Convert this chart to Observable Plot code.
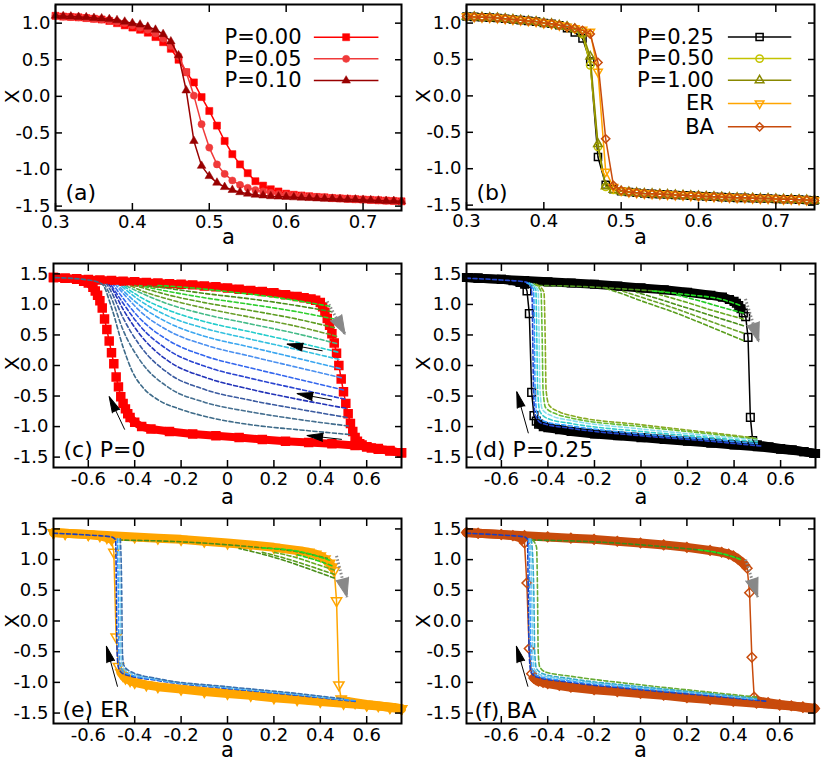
<!DOCTYPE html>
<html><head><meta charset="utf-8">
<script src="https://cdn.jsdelivr.net/npm/d3@7"></script>
<script src="https://cdn.jsdelivr.net/npm/@observablehq/plot@0.6"></script>
<style>
body{margin:0;background:#fff;}
#wrap{position:relative;width:822px;height:762px;overflow:hidden;background:#fff;}
</style></head><body><div id="wrap"></div>
<script>
// ---------------- DATA ----------------
// Panel (a)/(b): control parameter grid
const aGrid = [0.30,0.31,0.32,0.33,0.34,0.35,0.36,0.37,0.38,0.39,0.40,0.41,0.42,0.43,0.44,0.45,0.46,0.47,0.48,0.49,0.50,0.51,0.52,0.53,0.54,0.55,0.56,0.57,0.58,0.59,0.60,0.61,0.62,0.63,0.64,0.65,0.66,0.67,0.68,0.69,0.70,0.71,0.72,0.73,0.74,0.75];
const seriesA = ["P=0.00","P=0.05","P=0.10"];
const xP000 = [1.10,1.09,1.085,1.08,1.07,1.06,1.05,1.03,1.00,0.97, 0.94,0.91,0.87,0.81,0.74,0.65,0.50,0.33,0.19,-0.01, -0.20,-0.40,-0.61,-0.79,-0.93,-1.05,-1.16,-1.22,-1.27,-1.30, -1.33,-1.345,-1.355,-1.365,-1.375,-1.38,-1.39,-1.395,-1.40,-1.405, -1.41,-1.415,-1.42,-1.425,-1.43,-1.435];
const xP005 = [1.10,1.09,1.085,1.08,1.07,1.06,1.05,1.04,1.02,1.00, 0.97,0.94,0.91,0.86,0.79,0.69,0.55,0.33,0.01,-0.38, -0.70,-0.93,-1.06,-1.15,-1.21,-1.25,-1.28,-1.30,-1.32,-1.335, -1.345,-1.355,-1.36,-1.37,-1.375,-1.38,-1.39,-1.395,-1.40,-1.405, -1.41,-1.415,-1.42,-1.425,-1.43,-1.435];
const xP010 = [1.10,1.095,1.09,1.085,1.08,1.07,1.065,1.055,1.04,1.02, 1.00,0.98,0.95,0.91,0.85,0.75,0.56,0.08,-0.61,-0.95, -1.09,-1.18,-1.24,-1.28,-1.31,-1.33,-1.345,-1.355,-1.365,-1.37, -1.375,-1.38,-1.385,-1.39,-1.395,-1.40,-1.40,-1.405,-1.41,-1.41, -1.415,-1.42,-1.425,-1.43,-1.43,-1.435];

const seriesB = ["P=0.25","P=0.50","P=1.00","ER","BA"];
const bUpper = [1.09,1.085,1.08,1.075,1.07,1.06,1.05,1.04,1.03,1.02,1.00,0.99,0.97];           // a = 0.30..0.42
const bMid = [                                                                                   // a = 0.43..0.50
  [0.93,0.87,0.79,0.47,-0.84,-1.22,-1.28,-1.31],
  [0.95,0.92,0.85,0.42,-0.70,-1.25,-1.29,-1.31],
  [0.95,0.92,0.86,0.54,-0.66,-1.24,-1.29,-1.31],
  [0.95,0.93,0.91,0.88,0.33,-1.04,-1.25,-1.30],
  [0.95,0.93,0.90,0.85,0.46,-0.59,-1.23,-1.30]
];
const bLower = [-1.32,-1.33,-1.34,-1.345,-1.35,-1.355,-1.36,-1.365,-1.37,-1.375,-1.38,-1.385,-1.39,-1.395,-1.40,-1.40,-1.405,-1.41,-1.41,-1.415,-1.42,-1.42,-1.425,-1.43,-1.435]; // a = 0.51..0.75

// Panel (c) P=0 main loop
const cUpA = [-0.75,-0.70,-0.65,-0.60,-0.55,-0.50,-0.45,-0.40,-0.35,-0.30,-0.25,-0.20,-0.15,-0.10,-0.05,0,0.05,0.10,0.15,0.20,0.25,0.30,0.33,0.36,0.38,0.40,0.41,0.42,0.43,0.44,0.45,0.46,0.47,0.48,0.49,0.50,0.51,0.52,0.53,0.54,0.55,0.56,0.57,0.58,0.60,0.62,0.65,0.70,0.75];
const cUpX = [1.44,1.43,1.42,1.41,1.40,1.39,1.38,1.37,1.36,1.35,1.34,1.33,1.32,1.30,1.29,1.27,1.25,1.23,1.21,1.19,1.16,1.13,1.11,1.09,1.07,1.03,0.96,0.87,0.77,0.66,0.52,0.37,0.20,0.00,-0.22,-0.43,-0.62,-0.79,-0.95,-1.08,-1.18,-1.24,-1.28,-1.30,-1.33,-1.35,-1.37,-1.40,-1.43];
const cLoA = [-0.75,-0.70,-0.65,-0.62,-0.60,-0.58,-0.57,-0.56,-0.55,-0.54,-0.53,-0.52,-0.51,-0.50,-0.49,-0.48,-0.47,-0.46,-0.45,-0.44,-0.43,-0.42,-0.40,-0.37,-0.33,-0.25,-0.15,-0.05,0.05,0.15,0.25,0.35,0.45,0.55,0.60,0.65,0.70,0.75];
const cLoX = [1.44,1.43,1.41,1.38,1.35,1.28,1.22,1.15,1.06,0.94,0.76,0.59,0.40,0.21,0.03,-0.19,-0.35,-0.51,-0.62,-0.71,-0.79,-0.85,-0.93,-1.00,-1.04,-1.08,-1.12,-1.15,-1.18,-1.21,-1.24,-1.26,-1.28,-1.31,-1.33,-1.36,-1.39,-1.43];
const cDash = [
  [[0.44,0.97],[0.35,1.03],[0.2,1.12],[0.0,1.21],[-0.15,1.27],[-0.3,1.31]],
  [[0.45,0.88],[0.3,0.98],[0.1,1.09],[-0.1,1.18],[-0.25,1.26],[-0.35,1.31]],
  [[0.46,0.76],[0.3,0.88],[0.1,1.0],[-0.1,1.11],[-0.25,1.21],[-0.38,1.31]],
  [[0.46,0.62],[0.3,0.76],[0.1,0.9],[-0.1,1.03],[-0.25,1.15],[-0.4,1.31]],
  [[0.47,0.48],[0.3,0.64],[0.1,0.79],[-0.1,0.94],[-0.25,1.08],[-0.38,1.24],[-0.42,1.31]],
  [[0.47,0.36],[0.3,0.52],[0.1,0.68],[-0.1,0.84],[-0.25,1.0],[-0.38,1.2],[-0.44,1.31]],
  [[0.475,0.22],[0.3,0.38],[0.1,0.55],[-0.1,0.72],[-0.25,0.9],[-0.38,1.13],[-0.45,1.31]],
  [[0.48,0.10],[0.3,0.26],[0.1,0.43],[-0.1,0.61],[-0.25,0.8],[-0.38,1.07],[-0.46,1.31]],
  [[0.485,-0.05],[0.3,0.12],[0.1,0.30],[-0.1,0.48],[-0.25,0.69],[-0.38,0.99],[-0.44,1.19],[-0.47,1.31]],
  [[0.49,-0.20],[0.3,-0.03],[0.1,0.15],[-0.1,0.34],[-0.25,0.56],[-0.38,0.9],[-0.44,1.14],[-0.48,1.31]],
  [[0.50,-0.40],[0.3,-0.22],[0.1,-0.04],[-0.1,0.16],[-0.25,0.4],[-0.38,0.78],[-0.45,1.1],[-0.49,1.31]],
  [[0.505,-0.55],[0.3,-0.38],[0.1,-0.21],[-0.1,-0.01],[-0.25,0.24],[-0.38,0.66],[-0.45,1.02],[-0.5,1.31]],
  [[0.51,-0.70],[0.3,-0.55],[0.1,-0.39],[-0.1,-0.19],[-0.25,0.06],[-0.38,0.52],[-0.45,0.92],[-0.5,1.27],[-0.51,1.32]],
  [[0.515,-0.85],[0.3,-0.71],[0.1,-0.57],[-0.1,-0.39],[-0.25,-0.14],[-0.38,0.34],[-0.45,0.78],[-0.5,1.2],[-0.52,1.33]],
  [[0.52,-0.99],[0.3,-0.88],[0.1,-0.76],[-0.1,-0.6],[-0.25,-0.37],[-0.38,0.1],[-0.45,0.58],[-0.5,1.1],[-0.53,1.33]],
  [[0.525,-1.13],[0.3,-1.05],[0.1,-0.97],[-0.1,-0.83],[-0.2,-0.72],[-0.3,-0.56],[-0.36,-0.38],[-0.41,-0.1],[-0.45,0.3],[-0.5,0.95],[-0.54,1.33],[-0.6,1.40],[-0.75,1.44]]
];
const cDashColors = ["#1edc1e","#4a8f1a","#2fcf2f","#5c9c20","#6a9f2a","#44bb88","#22cccc","#33c0e0","#3aa6f0","#4a90f0","#3366ee","#2a44d0","#2233b8","#3a5aa0","#456f90","#3d6a88"];
const cArrowsBlack = [[0.41,0.24,0.257,0.35],[0.45,-0.565,0.30,-0.46],[0.493,-1.21,0.343,-1.145],[-0.443,-1.05,-0.51,-0.51]];
const cArrowsGray = [[0.43,1.05,0.507,0.51]];

// Panel (d) P=0.25
const dUpA = [-0.75,-0.70,-0.60,-0.50,-0.40,-0.30,-0.20,-0.10,0,0.10,0.20,0.30,0.35,0.38,0.40,0.41,0.42,0.43,0.44,0.45,0.46,0.47,0.48,0.50,0.55,0.60,0.65,0.70,0.75];
const dUpX = [1.44,1.43,1.41,1.39,1.37,1.35,1.33,1.30,1.27,1.24,1.20,1.15,1.12,1.08,1.05,1.02,0.98,0.93,0.86,0.80,0.46,-0.85,-1.23,-1.30,-1.33,-1.36,-1.38,-1.41,-1.44];
const dLoA = [-0.75,-0.70,-0.60,-0.55,-0.52,-0.50,-0.49,-0.48,-0.47,-0.46,-0.45,-0.44,-0.42,-0.40,-0.35,-0.30,-0.20,-0.10,0,0.10,0.20,0.30,0.40,0.50,0.60,0.70,0.75];
const dLoX = [1.44,1.43,1.41,1.39,1.36,1.33,1.22,0.85,-0.44,-0.82,-0.91,-0.96,-1.00,-1.02,-1.05,-1.08,-1.12,-1.15,-1.18,-1.21,-1.24,-1.27,-1.30,-1.33,-1.37,-1.41,-1.44];
const dDash = [
  [[0.44,0.41],[0.3,0.63],[0.15,0.86],[0.0,1.06],[-0.1,1.2],[-0.16,1.27]],
  [[0.44,0.53],[0.3,0.72],[0.15,0.93],[0.0,1.12],[-0.08,1.22]],
  [[0.44,0.65],[0.3,0.82],[0.15,1.0],[0.05,1.12],[-0.02,1.2]],
  [[0.44,0.76],[0.3,0.91],[0.2,1.03],[0.08,1.16]],
  [[0.44,0.86],[0.35,0.95],[0.25,1.06],[0.15,1.16]],
  [[-0.47,1.31],[-0.3,1.30],[-0.1,1.26],[0.1,1.21]],
  [[0.05,1.22],[0.2,1.16],[0.35,1.08],[0.43,0.98]],
  [[-0.75,1.43],[-0.6,1.40],[-0.5,1.37],[-0.475,1.32],[-0.468,1.1],[-0.465,0.4],[-0.462,-0.4],[-0.455,-0.8],[-0.43,-0.94],[-0.3,-1.03],[0,-1.15],[0.3,-1.24],[0.52,-1.32]],
  [[-0.49,1.35],[-0.462,1.25],[-0.458,0.5],[-0.455,-0.4],[-0.447,-0.78],[-0.42,-0.91],[-0.3,-0.99],[0,-1.12],[0.3,-1.21],[0.5,-1.28]],
  [[-0.48,1.35],[-0.452,1.24],[-0.448,0.5],[-0.444,-0.4],[-0.435,-0.75],[-0.40,-0.87],[-0.3,-0.95],[0,-1.08],[0.3,-1.18],[0.5,-1.25]],
  [[-0.47,1.34],[-0.442,1.23],[-0.438,0.5],[-0.434,-0.4],[-0.424,-0.72],[-0.38,-0.83],[-0.3,-0.90],[0,-1.04],[0.3,-1.15],[0.5,-1.22]],
  [[-0.46,1.34],[-0.43,1.22],[-0.425,0.5],[-0.421,-0.4],[-0.41,-0.69],[-0.36,-0.8],[-0.3,-0.86],[0,-1.0],[0.3,-1.12],[0.5,-1.2]],
  [[-0.45,1.33],[-0.417,1.2],[-0.412,0.5],[-0.408,-0.4],[-0.395,-0.65],[-0.35,-0.76],[-0.3,-0.82],[0,-0.97],[0.3,-1.1],[0.48,-1.18]]
];
const dDashColors = ["#5a9e1e","#6aa32a","#4a8f1a","#66aa22","#22cc22","#4a8f1a","#22dd22","#2244cc","#3399ff","#33cccc","#88ddee","#66bb33","#88aa22"];
const dArrowsBlack = [[-0.484,-1.11,-0.534,-0.43]];
const dArrowsGray = [[0.449,1.09,0.506,0.39]];

// Panel (e) ER
const eUpA = [-0.75,-0.70,-0.60,-0.50,-0.40,-0.30,-0.20,-0.10,0,0.10,0.20,0.30,0.35,0.38,0.40,0.42,0.44,0.45,0.46,0.47,0.48,0.49,0.50,0.55,0.60,0.65,0.70,0.75];
const eUpX = [1.44,1.43,1.41,1.39,1.37,1.35,1.33,1.30,1.27,1.24,1.20,1.15,1.12,1.09,1.06,1.01,0.94,0.88,0.82,0.33,-1.04,-1.27,-1.30,-1.33,-1.36,-1.38,-1.41,-1.43];
const eLoA = [-0.75,-0.70,-0.60,-0.55,-0.52,-0.50,-0.49,-0.48,-0.47,-0.46,-0.45,-0.44,-0.42,-0.40,-0.35,-0.30,-0.20,-0.10,0,0.10,0.20,0.30,0.40,0.50,0.60,0.70,0.75];
const eLoX = [1.44,1.43,1.41,1.39,1.36,1.33,1.12,-0.26,-0.74,-0.84,-0.89,-0.93,-0.97,-1.00,-1.04,-1.07,-1.11,-1.15,-1.18,-1.21,-1.25,-1.28,-1.31,-1.34,-1.37,-1.40,-1.43];
const eDash = [
  [[0.46,0.70],[0.35,0.85],[0.25,0.98],[0.12,1.12],[0.05,1.18]],
  [[0.46,0.76],[0.35,0.9],[0.25,1.02],[0.15,1.12]],
  [[0.46,0.83],[0.38,0.93],[0.28,1.05],[0.2,1.12]],
  [[0.45,0.90],[0.4,0.97],[0.3,1.08]],
  [[-0.47,1.32],[-0.2,1.29],[0.1,1.21],[0.3,1.13],[0.43,1.02]],
  [[0.15,1.19],[0.3,1.14],[0.44,0.99]],
  [[-0.75,1.43],[-0.6,1.40],[-0.5,1.37],[-0.482,1.32],[-0.479,0.5],[-0.476,-0.5],[-0.47,-0.76],[-0.45,-0.86],[-0.3,-0.97],[0,-1.10],[0.3,-1.21],[0.55,-1.31]],
  [[-0.475,1.34],[-0.471,0.5],[-0.468,-0.5],[-0.462,-0.74],[-0.44,-0.85],[-0.3,-0.96],[0,-1.09],[0.3,-1.20],[0.55,-1.30]],
  [[-0.468,1.34],[-0.463,0.5],[-0.46,-0.5],[-0.454,-0.73],[-0.43,-0.83],[-0.3,-0.95],[0,-1.08],[0.3,-1.19],[0.5,-1.28]],
  [[-0.462,1.34],[-0.456,0.5],[-0.453,-0.5],[-0.447,-0.72],[-0.42,-0.82],[-0.3,-0.94],[0,-1.07],[0.3,-1.18],[0.5,-1.27]]
];
const eDashColors = ["#4a8f1a","#5a9e1e","#66aa22","#22cc22","#4a8f1a","#22dd22","#1a3fbf","#3399ff","#77ccee","#3a70b0"];
const eArrowsBlack = [[-0.474,-1.07,-0.522,-0.41]];
const eArrowsGray = [[0.47,1.06,0.515,0.39]];

// Panel (f) BA
const fUpA = [-0.75,-0.70,-0.60,-0.50,-0.40,-0.30,-0.20,-0.10,0,0.10,0.20,0.30,0.35,0.38,0.40,0.42,0.44,0.45,0.46,0.47,0.48,0.49,0.50,0.55,0.60,0.65,0.70,0.75];
const fUpX = [1.44,1.43,1.41,1.39,1.37,1.35,1.33,1.30,1.27,1.24,1.20,1.15,1.12,1.09,1.06,1.01,0.95,0.91,0.86,0.46,-0.59,-1.24,-1.30,-1.33,-1.36,-1.38,-1.41,-1.43];
const fLoA = [-0.75,-0.70,-0.60,-0.55,-0.52,-0.51,-0.50,-0.49,-0.48,-0.47,-0.46,-0.45,-0.44,-0.42,-0.40,-0.35,-0.30,-0.20,-0.10,0,0.10,0.20,0.30,0.40,0.50,0.60,0.70,0.75];
const fLoX = [1.44,1.43,1.41,1.39,1.36,1.33,1.27,0.62,-0.45,-0.86,-0.93,-0.96,-0.98,-1.00,-1.02,-1.05,-1.08,-1.12,-1.15,-1.18,-1.21,-1.25,-1.28,-1.31,-1.34,-1.37,-1.40,-1.42];
const fDash = [
  [[-0.47,1.32],[-0.2,1.29],[0.1,1.21],[0.3,1.13],[0.43,1.02]],
  [[0.25,1.16],[0.35,1.1],[0.44,0.99]],
  [[-0.75,1.43],[-0.6,1.40],[-0.5,1.37],[-0.487,1.33],[-0.484,0.5],[-0.48,-0.5],[-0.473,-0.82],[-0.45,-0.91],[-0.3,-1.0],[0,-1.12],[0.3,-1.22],[0.55,-1.31]],
  [[-0.482,1.34],[-0.477,0.5],[-0.473,-0.5],[-0.465,-0.81],[-0.44,-0.9],[-0.3,-0.98],[0,-1.1],[0.3,-1.2],[0.5,-1.28]],
  [[-0.476,1.34],[-0.469,0.5],[-0.465,-0.5],[-0.457,-0.79],[-0.43,-0.88],[-0.3,-0.96],[0,-1.08],[0.3,-1.19],[0.5,-1.27]],
  [[-0.47,1.33],[-0.46,0.5],[-0.456,-0.5],[-0.449,-0.77],[-0.42,-0.86],[-0.3,-0.94],[0,-1.07],[0.3,-1.18],[0.5,-1.26]],
  [[-0.465,1.32],[-0.448,1.2],[-0.444,0.5],[-0.441,-0.5],[-0.435,-0.74],[-0.41,-0.83],[-0.3,-0.9],[0,-1.04],[0.3,-1.16],[0.5,-1.24]]
];
const fDashColors = ["#3a8a1a","#22dd22","#1a3fbf","#3399ff","#77ccee","#33aacc","#66aa33"];
const fArrowsBlack = [[-0.485,-1.07,-0.535,-0.41]];
const fArrowsGray = [[0.453,1.0,0.505,0.39]];

// Ticks
const xTicksTop = [0.3,0.4,0.5,0.6,0.7];
const yTicksTop = [-1.5,-1.0,-0.5,0,0.5,1.0];
const xTicksLoop = [-0.6,-0.4,-0.2,0,0.2,0.4,0.6];
const yTicksLoop = [-1.5,-1.0,-0.5,0,0.5,1.0,1.5];

// ---------------- LAYOUT / STYLE ----------------
const FONT = '"DejaVu Sans", "Liberation Sans", Arial, sans-serif';
const L = {
  a: {left:0,   top:0,   width:411, height:250, mt:4,  mb:40, ml:55, mr:10, xd:[0.3,0.75],  yd:[-1.56,1.255]},
  b: {left:411, top:0,   width:411, height:250, mt:4,  mb:41, ml:55, mr:8,  xd:[0.3,0.75],  yd:[-1.56,1.255]},
  c: {left:0,   top:250, width:411, height:262, mt:13, mb:45, ml:53, mr:10, xd:[-0.75,0.75], yd:[-1.67,1.67]},
  d: {left:411, top:250, width:411, height:262, mt:13, mb:45, ml:55, mr:7,  xd:[-0.75,0.75], yd:[-1.67,1.67]},
  e: {left:0,   top:505, width:411, height:257, mt:13, mb:39, ml:53, mr:10, xd:[-0.75,0.75], yd:[-1.67,1.67]},
  f: {left:411, top:505, width:411, height:257, mt:13, mb:39, ml:55, mr:8,  xd:[-0.75,0.75], yd:[-1.67,1.67]}
};
const colA = ["#ff0000","#f03a3a","#990000"];
const colB = ["#000000","#c3c300","#888800","#ffa500","#c84b0c"];
const fmt1 = d => d.toFixed(1);
const fmtLoop = d => d === 0 ? "0" : d.toFixed(1);

// ---------------- HELPERS ----------------
function axes(xt, yt, fx, fy) {
  const tk = {label: null, tickSize: -7, tickFormat: () => "", strokeWidth: 1.5};
  return [
    Plot.axisX(xt, {anchor: "bottom", tickFormat: fx, label: null, fontSize: 18, tickSize: 0, tickPadding: 5}),
    Plot.axisY(yt, {anchor: "left", tickFormat: fy, label: null, fontSize: 18, tickSize: 0, tickPadding: 5}),
    Plot.axisX(xt, {anchor: "bottom", ...tk}),
    Plot.axisX(xt, {anchor: "top", ...tk}),
    Plot.axisY(yt, {anchor: "left", ...tk}),
    Plot.axisY(yt, {anchor: "right", ...tk}),
    Plot.frame({stroke: "black", strokeWidth: 2})
  ];
}
function series(A, X, color, symbol, r, filled, rotate) {
  const data = A.map((a, i) => ({a, X: X[i]}));
  return [
    Plot.line(data, {x: "a", y: "X", stroke: color, strokeWidth: 1.5}),
    Plot.dot(data, {x: "a", y: "X", symbol, r, rotate, fill: filled ? color : "none", stroke: color, strokeWidth: filled ? 0.5 : 1.5})
  ];
}
function loop(A, X, gap, color, symbol, r, filled, bandW, rotate) {
  const data = A.map((a, i) => ({a, X: X[i]}));
  return [
    Plot.line(data, {x: "a", y: d => (d.a > gap[0] && d.a < gap[1]) ? NaN : d.X, stroke: color, strokeWidth: bandW}),
    Plot.line(data, {x: "a", y: "X", stroke: color, strokeWidth: 1.5}),
    Plot.dot(data, {x: "a", y: "X", symbol, r, rotate, fill: filled ? color : "none", stroke: color, strokeWidth: 1.5})
  ];
}
function dashes(curves, colors) {
  return curves.map((c, k) => Plot.line(c.map(([a, X]) => ({a, X})),
    {x: "a", y: "X", stroke: colors[k], strokeWidth: 1.6, strokeDasharray: "4,2.5", curve: "monotone-x"}));
}
function arrows(P, list, color, headLen, headR, shaftW, dash) {
  const kx = (P.width - P.ml - P.mr) / (P.xd[1] - P.xd[0]);
  const ky = (P.height - P.mt - P.mb) / (P.yd[1] - P.yd[0]);
  const data = list.map(([a1, X1, a2, X2]) => ({a1, X1, a2, X2,
    rot: Math.atan2((a2 - a1) * kx, (X2 - X1) * ky) * 180 / Math.PI}));
  return [
    Plot.link(data, {x1: "a1", y1: "X1", x2: "a2", y2: "X2", stroke: color, strokeWidth: shaftW, strokeDasharray: dash}),
    Plot.vector(data, {x: "a2", y: "X2", rotate: "rot", length: headLen, r: headR, shape: "spike", anchor: "end", fill: color, stroke: color, strokeWidth: 1})
  ];
}
function labels(tag, tdx, tdy, xdy, ydx, ydy) {
  return [
    Plot.text([tag], {text: d => d, frameAnchor: "bottom-left", dx: tdx, dy: tdy, textAnchor: "start", lineAnchor: "middle", fontSize: 22}),
    Plot.text(["a"], {text: d => d, frameAnchor: "bottom", dy: xdy, textAnchor: "middle", lineAnchor: "middle", fontSize: 21}),
    Plot.text(["X"], {text: d => d, frameAnchor: "left", dx: ydx, dy: ydy, rotate: -90, textAnchor: "middle", lineAnchor: "middle", fontSize: 20})
  ];
}
function legend(names, colors, symbols, radii, fills, rotates, rows, col) {
  const out = [];
  names.forEach((t, i) => {
    const d = [{t, y: rows[i]}];
    out.push(Plot.text(d, {x: () => col[0], y: "y", text: "t", textAnchor: "end", fontSize: 21}));
    out.push(Plot.link(d, {x1: () => col[1], x2: () => col[2], y1: "y", y2: "y", stroke: colors[i], strokeWidth: 1.5}));
    out.push(Plot.dot(d, {x: () => col[3], y: "y", symbol: symbols[i], r: radii[i], rotate: rotates[i],
      fill: fills[i] ? colors[i] : "none", stroke: colors[i], strokeWidth: fills[i] ? 0.5 : 1.5}));
  });
  return out;
}
const wrap = document.getElementById("wrap");
function panel(P, marks) {
  const svg = Plot.plot({
    width: P.width, height: P.height,
    marginTop: P.mt, marginBottom: P.mb, marginLeft: P.ml, marginRight: P.mr,
    x: {domain: P.xd, label: null}, y: {domain: P.yd, label: null},
    style: {fontFamily: FONT, fontSize: "18px", background: "transparent", color: "black", overflow: "visible"},
    marks
  });
  svg.style.position = "absolute";
  svg.style.left = P.left + "px";
  svg.style.top = P.top + "px";
  wrap.appendChild(svg);
}

// ---------------- PANELS ----------------
// (a)
panel(L.a, [
  ...series(aGrid, xP000, colA[0], "square", 4, true),
  ...series(aGrid, xP005, colA[1], "circle", 3.6, true),
  ...series(aGrid, xP010, colA[2], "triangle", 3.2, true),
  ...legend(seriesA, colA, ["square","circle","triangle"], [4,3.6,3.2], [true,true,true], [0,0,0],
    [0.808, 0.512, 0.215], [0.62, 0.636, 0.72, 0.678]),
  ...axes(xTicksTop, yTicksTop, fmt1, fmt1),
  ...labels("(a)", 10, -18, 27, -43, -11)
]);

// (b)
const bSym = ["square","circle","triangle","triangle","square"];
const bR = [4,3.7,3.2,3.2,3.3];
const bRot = [0,0,0,180,45];
const bData = bMid.map(m => bUpper.concat(m, bLower));
panel(L.b, [
  ...bData.flatMap((X, k) => series(aGrid, X, colB[k], bSym[k], bR[k], false, bRot[k])),
  ...legend(seriesB, colB, bSym, bR, [false,false,false,false,false], bRot,
    [0.808, 0.512, 0.215, -0.104, -0.425], [0.62, 0.638, 0.72, 0.679]),
  ...axes(xTicksTop, yTicksTop, fmt1, fmt1),
  ...labels("(b)", 10, -17, 28, -43, -11)
]);

// (c)
panel(L.c, [
  ...loop(cLoA, cLoX, [-0.565, -0.425], "#ff0000", "square", 4.5, true, 8),
  ...loop(cUpA, cUpX, [0.425, 0.565], "#ff0000", "square", 4.5, true, 8),
  ...dashes(cDash, cDashColors),
  ...arrows(L.c, cArrowsGray, "#888888", 19, 6.5, 3, "1.5,2"),
  ...arrows(L.c, cArrowsBlack, "#000000", 16, 4, 1),
  ...axes(xTicksLoop, yTicksLoop, fmtLoop, fmt1),
  ...labels("(c) P=0", 10, -18, 30, -41, -2)
]);

// (d)
panel(L.d, [
  ...loop(dLoA, dLoX, [-0.495, -0.445], "#000000", "square", 4.3, false, 9),
  ...loop(dUpA, dUpX, [0.435, 0.49], "#000000", "square", 4.3, false, 9),
  ...dashes(dDash, dDashColors),
  ...arrows(L.d, dArrowsGray, "#888888", 19, 6.5, 3, "1.5,2"),
  ...arrows(L.d, dArrowsBlack, "#000000", 16, 4, 1),
  ...axes(xTicksLoop, yTicksLoop, fmtLoop, fmt1),
  ...labels("(d) P=0.25", 8, -18, 30, -43, -2)
]);

// (e)
panel(L.e, [
  ...loop(eLoA, eLoX, [-0.495, -0.465], "#ffa500", "triangle", 3.8, false, 9, 180),
  ...loop(eUpA, eUpX, [0.455, 0.495], "#ffa500", "triangle", 3.8, false, 9, 180),
  ...dashes(eDash, eDashColors),
  ...arrows(L.e, eArrowsGray, "#888888", 19, 6.5, 3, "1.5,2"),
  ...arrows(L.e, eArrowsBlack, "#000000", 16, 4, 1),
  ...axes(xTicksLoop, yTicksLoop, fmtLoop, fmt1),
  ...labels("(e) ER", 9, -14, 27, -41, 0)
]);

// (f)
panel(L.f, [
  ...loop(fLoA, fLoX, [-0.505, -0.465], "#c84b0c", "square", 3.8, false, 9, 45),
  ...loop(fUpA, fUpX, [0.455, 0.495], "#c84b0c", "square", 3.8, false, 9, 45),
  ...dashes(fDash, fDashColors),
  ...arrows(L.f, fArrowsGray, "#888888", 19, 6.5, 3, "1.5,2"),
  ...arrows(L.f, fArrowsBlack, "#000000", 16, 4, 1),
  ...axes(xTicksLoop, yTicksLoop, fmtLoop, fmt1),
  ...labels("(f) BA", 8, -13, 27, -43, 0)
]);
</script></body></html>
